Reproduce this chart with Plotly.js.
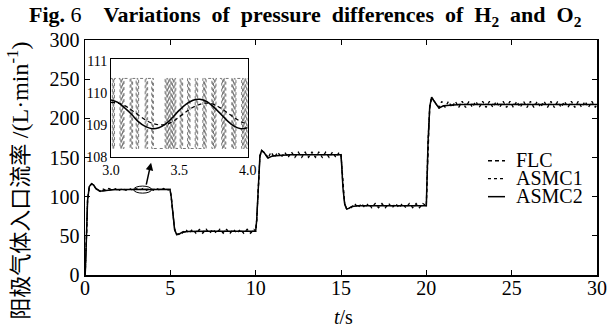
<!DOCTYPE html>
<html>
<head>
<meta charset="utf-8">
<script src="https://cdn.plot.ly/plotly-3.0.1.min.js"></script>
<style>html,body{margin:0;padding:0;background:#fff;}#chart{width:611px;height:333px;}</style>
</head>
<body>
<div id="chart"></div>
<script>
// ---------- main view data ----------
const asmc2T = [0,0.02,0.08,0.15,0.25,0.39,0.5,0.65,0.88,1.2,1.6,2,3,4,4.98,5.05,5.15,5.25,5.37,5.5,5.7,6,7,8,9,10.0,10.06,10.15,10.25,10.35,10.5,10.72,11,12,13,14,15,15.04,15.12,15.22,15.33,15.45,15.65,16,17,18,19,20,20.02,20.1,20.2,20.31,20.45,20.74,21,22,25,30];
const asmc2V = [0,5,45,95,113,116.6,115,110,106.8,108,108.8,109,109.3,109.3,109.3,100,75,58,51.6,52,54.5,55.5,55.8,55.8,55.8,55.8,70,120,152,159,156,149.3,152,153.5,153.5,153.5,153.5,140,110,90,84.3,85,87.5,88.5,88.5,88.5,88.5,88.5,105,170,215,227,222,213,216,217.8,217.8,217.8];

const flcT = [0,0.02,0.08,0.15,0.25,0.4,0.52,0.68,0.9,1.2,1.6,2,3,4,4.98,5.05,5.15,5.25,5.38,5.52,5.72,6,7,8,9,10.0,10.06,10.15,10.25,10.36,10.52,10.74,11,12,13,14,15,15.04,15.12,15.22,15.34,15.46,15.66,16,17,18,19,20,20.02,20.1,20.2,20.32,20.46,20.76,21,22,25,30];
const flcV = [0,5,44,94,112,116,114.6,110,107.2,108.2,108.9,109.1,109.3,109.3,109.3,100,76,59,52,52.4,54.7,55.5,55.8,55.8,55.8,55.8,69,118,151,158.5,156,149.8,152,153.5,153.5,153.5,153.5,141,111,91,84.6,85.2,87.6,88.5,88.5,88.5,88.5,88.5,104,168,214,226.5,222,213.5,216,217.8,217.8,217.8];

const asmc1T = [0,0.02,0.08,0.15,0.25,0.39,0.5,0.65,0.88,
  1.0,1.2,1.4,1.6,1.8,2.0,2.2,2.4,2.6,2.8,3.0,3.2,3.4,3.6,3.8,4.0,4.2,4.4,4.6,4.8,
  4.98,5.05,5.15,5.25,5.37,5.5,
  5.7,5.9,6.1,6.3,6.5,6.7,6.9,7.1,7.3,7.5,7.7,7.9,8.1,8.3,8.5,8.7,8.9,9.1,9.3,9.5,9.7,9.9,
  10.0,10.06,10.15,10.25,10.35,10.5,10.72,
  10.9,11.1,11.3,11.5,11.7,11.9,12.1,12.3,12.5,12.7,12.9,13.1,13.3,13.5,13.7,13.9,14.1,14.3,14.5,14.7,14.9,
  15.0,15.04,15.12,15.22,15.33,15.45,
  15.6,15.8,16.0,16.2,16.4,16.6,16.8,17.0,17.2,17.4,17.6,17.8,18.0,18.2,18.4,18.6,18.8,19.0,19.2,19.4,19.6,19.8,
  20.0,20.02,20.1,20.2,20.31,20.45,20.74,
  20.9,21.1,21.3,21.5,21.7,21.9,22.1,22.3,22.5,22.7,22.9,23.1,23.3,23.5,23.7,23.9,24.1,24.3,24.5,24.7,24.9,25.1,25.3,25.5,25.7,25.9,
  26.1,26.3,26.5,26.7,26.9,27.1,27.3,27.5,27.7,27.9,28.1,28.3,28.5,28.7,28.9,29.1,29.3,29.5,29.7,29.9,30];
const asmc1V = [0,5,45,95,113,116.6,115,110,106.8,
  110.2,108.2,110.4,108.3,110.3,108.2,110.4,108.3,110.4,108.2,110.3,108.3,110.4,108.2,110.4,108.3,110.3,108.2,110.4,108.3,
  109.3,100,75,58,51.6,52,
  53.3,58.2,53.4,58.3,53.3,58.2,53.4,58.3,53.3,58.2,53.4,58.3,53.3,58.2,53.4,58.3,53.3,58.2,53.4,58.3,53.3,58.2,
  55.8,70,120,152,159,156,149.3,
  156.8,150.2,156.9,150.1,156.8,150.2,156.9,150.1,156.8,150.2,156.9,150.1,156.8,150.2,156.9,150.1,156.8,150.2,156.9,150.1,156.8,
  153.5,140,110,90,84.3,85,
  85.8,91.2,85.9,91.3,85.8,91.2,85.9,91.3,85.8,91.2,85.9,91.3,85.8,91.2,85.9,91.3,85.8,91.2,85.9,91.3,85.8,91.2,
  88.5,105,170,215,227,222,213,
  221.6,214.0,221.7,213.9,221.6,214.0,221.7,213.9,221.6,214.0,221.7,213.9,221.6,214.0,221.7,213.9,221.6,214.0,221.7,213.9,221.6,214.0,221.7,213.9,221.6,214.0,
  221.7,213.9,221.6,214.0,221.7,213.9,221.6,214.0,221.7,213.9,221.6,214.0,221.7,213.9,221.6,214.0,221.7,213.9,221.6,214.0,217.8];

// ---------- inset (zoom 3.0 - 4.0 s) data ----------
const insetT = [3.00,3.05,3.10,3.15,3.20,3.25,3.30,3.35,3.40,3.45,3.50,3.55,3.60,3.65,3.70,3.75,3.80,3.85,3.90,3.95,4.00];
const insetASMC2 = [109.80,109.72,109.55,109.35,109.12,108.97,108.90,108.93,109.05,109.25,109.48,109.67,109.79,109.82,109.75,109.58,109.37,109.15,108.98,108.90,108.93];
const insetFLC = [109.72,109.70,109.62,109.48,109.33,109.18,109.07,109.02,109.03,109.12,109.27,109.43,109.57,109.66,109.70,109.66,109.55,109.40,109.25,109.12,109.05];
// ASMC1 chattering: switching instants and its two levels
const insetASMC1Switch = [3.000,3.010,3.015,3.020,3.025,3.066,3.072,3.078,3.084,3.090,3.095,3.140,3.146,3.152,3.158,
  3.184,3.190,3.196,3.202,3.250,3.256,3.262,3.268,3.298,3.304,3.310,
  3.396,3.402,3.408,3.414,3.420,3.426,3.432,3.438,3.444,3.450,3.456,3.462,3.468,3.474,
  3.506,3.512,3.518,3.524,3.560,3.566,3.572,3.578,3.616,3.622,3.628,3.634,
  3.672,3.678,3.684,3.690,3.696,3.738,3.744,3.750,3.756,3.762,3.768,
  3.810,3.816,3.822,3.828,3.834,3.840,3.884,3.890,3.896,3.902,3.908,3.914,
  3.956,3.962,3.968,3.974,3.980,3.986,3.992,4.000];
const insetASMC1Levels = [110.47,108.28];

// ---------- tick labels ----------
const xTicks = [0,5,10,15,20,25,30];
const yTicks = [0,50,100,150,200,250,300];
const insetXTicks = [3.0,3.5,4.0];
const insetXLabels = ['3.0','3.5','4.0'];
const insetYTicks = [108,109,110,111];

const seriesNames = ['FLC','ASMC1','ASMC2'];

const asmc1Y = insetASMC1Switch.map((t,i)=>insetASMC1Levels[i%2]);

const serif = '"Liberation Serif", "Times New Roman", serif';
const DASH = '4px,3px';
const traces = [
  {x: asmc1T, y: asmc1V, mode:'lines', line:{color:'#000', width:1.3, dash:'dot'}, showlegend:false, xaxis:'x', yaxis:'y'},
  {x: flcT, y: flcV, mode:'lines', line:{color:'#000', width:1.2, dash:DASH}, showlegend:false, xaxis:'x', yaxis:'y'},
  {x: asmc2T, y: asmc2V, mode:'lines', line:{color:'#000', width:1.5}, showlegend:false, xaxis:'x', yaxis:'y'},
  {x: insetASMC1Switch, y: asmc1Y, mode:'lines', line:{color:'#777', width:1, dash:'dot', shape:'hv'}, showlegend:false, xaxis:'x2', yaxis:'y2'},
  {x: insetT, y: insetFLC, mode:'lines', line:{color:'#000', width:1.2, dash:DASH, shape:'spline'}, showlegend:false, xaxis:'x2', yaxis:'y2'},
  {x: insetT, y: insetASMC2, mode:'lines', line:{color:'#000', width:1.5, shape:'spline'}, showlegend:false, xaxis:'x2', yaxis:'y2'}
];

// manual legend positions (paper coords)
const L = 85, R = 597, T = 40, B = 275.5;
const px = x => (x - L)/(R - L);
const py = y => (B - y)/(B - T);
const legendY = [160, 178, 196];
const legendDash = [DASH,'dot','solid'];
const shapes = [
  {type:'circle', xref:'x', yref:'y', x0:2.85, x1:3.9, y0:104.5, y1:113.5, line:{color:'#000', width:1}}
];
const annotations = [
  {xref:'x', yref:'y', axref:'x', ayref:'y', x:3.87, y:143.3, ax:3.57, ay:113.4, text:'', showarrow:true, arrowhead:2, arrowsize:1, arrowwidth:1.5, arrowcolor:'#000'},
  {xref:'paper', yref:'paper', x:px(18), y:py(181), xanchor:'center', yanchor:'middle', text:'阳极气体入口流率 <span style="font-size:24px">/(L·min<sup>-1</sup>)</span>', textangle:-90, showarrow:false, font:{family:serif+', "Noto Sans CJK SC"', size:22, color:'#000'}},
  {xref:'paper', yref:'paper', x:px(343), y:py(318), xanchor:'center', yanchor:'middle', text:'<i>t</i>/s', showarrow:false, font:{family:serif, size:20, color:'#000'}},
  {xref:'paper', yref:'paper', x:px(305), y:py(16), xanchor:'center', yanchor:'middle', text:'<b>Fig.</b> 6 &nbsp; &nbsp;<b>Variations &nbsp;of &nbsp;pressure &nbsp;differences &nbsp;of &nbsp;H<sub>2</sub> &nbsp;and &nbsp;O<sub>2</sub></b>', showarrow:false, font:{family:serif, size:22, color:'#000'}}
];
seriesNames.forEach((n,i)=>{
  shapes.push({type:'line', xref:'paper', yref:'paper', x0:px(488), x1:px(505), y0:py(legendY[i]+1), y1:py(legendY[i]+1), line:{color:'#000', width: i===1?1.2:1.5, dash:legendDash[i]}});
  annotations.push({xref:'paper', yref:'paper', x:px(514), y:py(legendY[i]), xanchor:'left', yanchor:'middle', text:n, showarrow:false, font:{family:serif, size:20, color:'#000'}});
});

const axCommon = {showgrid:false, zeroline:false, showline:true, linecolor:'#000', mirror:'ticks', ticks:'inside', tickcolor:'#000', ticklen:5, tickwidth:1};
const layout = {
  width:611, height:333,
  margin:{l:85, r:14, t:40, b:57.5, pad:0},
  paper_bgcolor:'#fff', plot_bgcolor:'#fff',
  font:{family:serif, color:'#000'},
  xaxis: Object.assign({}, axCommon, {domain:[0,1], range:[0,30], tickvals:xTicks, linewidth:1.5, ticklabelstandoff:-6, tickfont:{family:serif, size:20, color:'#000'}, anchor:'y'}),
  yaxis: Object.assign({}, axCommon, {domain:[0,1], range:[0,300], tickvals:yTicks, linewidth:1.5, tickfont:{family:serif, size:20, color:'#000'}, anchor:'x'}),
  xaxis2: {domain:[px(111), px(247.7)], range:[3,4], anchor:'y2', showgrid:false, zeroline:false, showline:true, mirror:true, linecolor:'#000', linewidth:1, ticks:'', tickvals:insetXTicks, ticktext:insetXLabels, tickfont:{family:serif, size:14, color:'#000'}},
  yaxis2: {domain:[py(157.7), py(59.3)], range:[108,111.07], anchor:'x2', showgrid:false, zeroline:false, showline:true, mirror:true, linecolor:'#000', linewidth:1, ticks:'', tickvals:insetYTicks, tickfont:{family:serif, size:14, color:'#000'}},
  shapes: shapes,
  annotations: annotations,
  showlegend:false
};
Plotly.newPlot('chart', traces, layout, {staticPlot:true, displayModeBar:false});
</script>
</body>
</html>
